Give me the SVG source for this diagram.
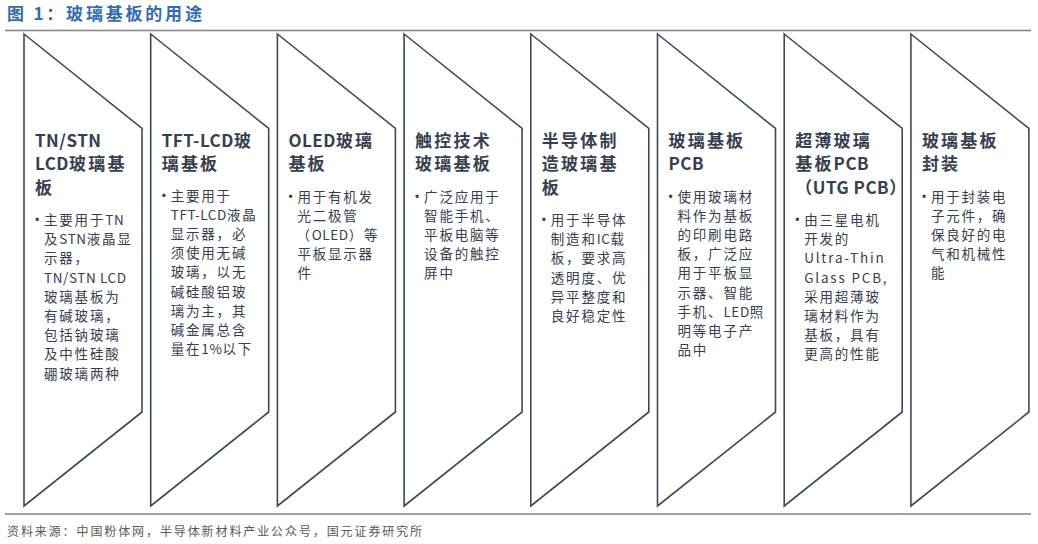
<svg xmlns="http://www.w3.org/2000/svg" width="1038" height="544" viewBox="0 0 1038 544">
<defs>
<style>
.bg{fill:#ffffff}
.rule{stroke:#808080;stroke-width:1.5;fill:none}
.title{font-family:"Noto Sans CJK SC","Liberation Sans",sans-serif;font-size:17px;font-weight:bold;fill:#2f6db5;letter-spacing:2.8px}
.src{font-family:"Noto Sans CJK SC","Liberation Sans",sans-serif;font-size:12px;fill:#595959;letter-spacing:1.9px}
.shape{fill:#ffffff;stroke:#3d4a5c;stroke-width:1.6;stroke-linejoin:miter}
.hd{font-family:"Noto Sans CJK SC","Liberation Sans",sans-serif;font-size:17px;font-weight:bold;fill:#36404f;letter-spacing:2.2px}
.bd{font-family:"Noto Sans CJK SC","Liberation Sans",sans-serif;font-size:13.5px;fill:#36404f;letter-spacing:1.8px}
.lt{letter-spacing:0.5px}
.lb{letter-spacing:0.6px}
.bul{font-family:"Liberation Sans",sans-serif;font-size:12px;fill:#36404f}
</style>
<polygon id="chev" class="shape" points="0,34 118,128.5 118,412 0,506"/>
</defs>
<rect class="bg" x="0" y="0" width="1038" height="544"/>
<text class="title" x="7" y="20">图 1：玻璃基板的用途</text>
<line class="rule" x1="5" y1="30.5" x2="1031" y2="30.5"/>
<line class="rule" x1="5" y1="514" x2="1031" y2="514"/>
<text class="src" x="7" y="536">资料来源：中国粉体网，半导体新材料产业公众号，国元证券研究所</text>

<g id="n1" transform="translate(24,0)">
<use href="#chev"/>
<text class="hd"><tspan x="11" y="146.5" class="lt">TN/STN</tspan><tspan x="11" y="170"><tspan class="lt">LCD</tspan>玻璃基</tspan><tspan x="11" y="193.5">板</tspan></text>
<text class="bul" x="11" y="224">•</text>
<text class="bd"><tspan x="20" y="225">主要用于<tspan class="lb">TN</tspan></tspan><tspan x="20" y="244.2">及<tspan class="lb">STN</tspan>液晶显</tspan><tspan x="20" y="263.4">示器，</tspan><tspan x="20" y="282.6" class="lb">TN/STN LCD</tspan><tspan x="20" y="301.8">玻璃基板为</tspan><tspan x="20" y="321">有碱玻璃，</tspan><tspan x="20" y="340.2">包括钠玻璃</tspan><tspan x="20" y="359.4">及中性硅酸</tspan><tspan x="20" y="378.6">硼玻璃两种</tspan></text>
</g>

<g id="n2" transform="translate(150.7,0)">
<use href="#chev"/>
<text class="hd"><tspan x="11" y="146.5"><tspan class="lt">TFT-LCD</tspan>玻</tspan><tspan x="11" y="170">璃基板</tspan></text>
<text class="bul" x="11" y="200">•</text>
<text class="bd"><tspan x="20" y="201">主要用于</tspan><tspan x="20" y="220.1"><tspan class="lb">TFT-LCD</tspan>液晶</tspan><tspan x="20" y="239.2">显示器，必</tspan><tspan x="20" y="258.3">须使用无碱</tspan><tspan x="20" y="277.4">玻璃，以无</tspan><tspan x="20" y="296.5">碱硅酸铝玻</tspan><tspan x="20" y="315.6">璃为主，其</tspan><tspan x="20" y="334.7">碱金属总含</tspan><tspan x="20" y="353.8">量在<tspan class="lb">1%</tspan>以下</tspan></text>
</g>

<g id="n3" transform="translate(277.4,0)">
<use href="#chev"/>
<text class="hd"><tspan x="11" y="146.5"><tspan class="lt">OLED</tspan>玻璃</tspan><tspan x="11" y="170">基板</tspan></text>
<text class="bul" x="11" y="201">•</text>
<text class="bd"><tspan x="20" y="202">用于有机发</tspan><tspan x="20" y="221.1">光二极管</tspan><tspan x="19" y="240.2">（<tspan class="lb">OLED</tspan>）等</tspan><tspan x="20" y="259.3">平板显示器</tspan><tspan x="20" y="278.4">件</tspan></text>
</g>

<g id="n4" transform="translate(404.1,0)">
<use href="#chev"/>
<text class="hd"><tspan x="11" y="146.5">触控技术</tspan><tspan x="11" y="170">玻璃基板</tspan></text>
<text class="bul" x="11" y="201">•</text>
<text class="bd"><tspan x="20" y="202">广泛应用于</tspan><tspan x="20" y="221.1">智能手机、</tspan><tspan x="20" y="240.2">平板电脑等</tspan><tspan x="20" y="259.3">设备的触控</tspan><tspan x="20" y="278.4">屏中</tspan></text>
</g>

<g id="n5" transform="translate(530.8,0)">
<use href="#chev"/>
<text class="hd"><tspan x="11" y="146.5">半导体制</tspan><tspan x="11" y="170">造玻璃基</tspan><tspan x="11" y="193.5">板</tspan></text>
<text class="bul" x="11" y="224">•</text>
<text class="bd"><tspan x="20" y="225">用于半导体</tspan><tspan x="20" y="244.2">制造和<tspan class="lb">IC</tspan>载</tspan><tspan x="20" y="263.4">板，要求高</tspan><tspan x="20" y="282.6">透明度、优</tspan><tspan x="20" y="301.8">异平整度和</tspan><tspan x="20" y="321">良好稳定性</tspan></text>
</g>

<g id="n6" transform="translate(657.5,0)">
<use href="#chev"/>
<text class="hd"><tspan x="11" y="146.5">玻璃基板</tspan><tspan x="11" y="170" class="lt">PCB</tspan></text>
<text class="bul" x="11" y="201">•</text>
<text class="bd"><tspan x="20" y="202">使用玻璃材</tspan><tspan x="20" y="221.1">料作为基板</tspan><tspan x="20" y="240.2">的印刷电路</tspan><tspan x="20" y="259.3">板，广泛应</tspan><tspan x="20" y="278.4">用于平板显</tspan><tspan x="20" y="297.5">示器、智能</tspan><tspan x="20" y="316.6">手机、<tspan class="lb">LED</tspan>照</tspan><tspan x="20" y="335.7">明等电子产</tspan><tspan x="20" y="354.8">品中</tspan></text>
</g>

<g id="n7" transform="translate(784.2,0)">
<use href="#chev"/>
<text class="hd"><tspan x="11" y="146.5">超薄玻璃</tspan><tspan x="11" y="170">基板<tspan class="lt">PCB</tspan></tspan><tspan x="11" y="193.5" class="lt">（UTG PCB）</tspan></text>
<text class="bul" x="11" y="224">•</text>
<text class="bd"><tspan x="20" y="225">由三星电机</tspan><tspan x="20" y="244.2">开发的</tspan><tspan x="20" y="263.4">Ultra-Thin</tspan><tspan x="20" y="282.6">Glass PCB,</tspan><tspan x="20" y="301.8">采用超薄玻</tspan><tspan x="20" y="321">璃材料作为</tspan><tspan x="20" y="340.2">基板，具有</tspan><tspan x="20" y="359.4">更高的性能</tspan></text>
</g>

<g id="n8" transform="translate(910.9,0)">
<use href="#chev"/>
<text class="hd"><tspan x="11" y="146.5">玻璃基板</tspan><tspan x="11" y="170">封装</tspan></text>
<text class="bul" x="11" y="201">•</text>
<text class="bd"><tspan x="20" y="202">用于封装电</tspan><tspan x="20" y="221.1">子元件，确</tspan><tspan x="20" y="240.2">保良好的电</tspan><tspan x="20" y="259.3">气和机械性</tspan><tspan x="20" y="278.4">能</tspan></text>
</g>
</svg>
